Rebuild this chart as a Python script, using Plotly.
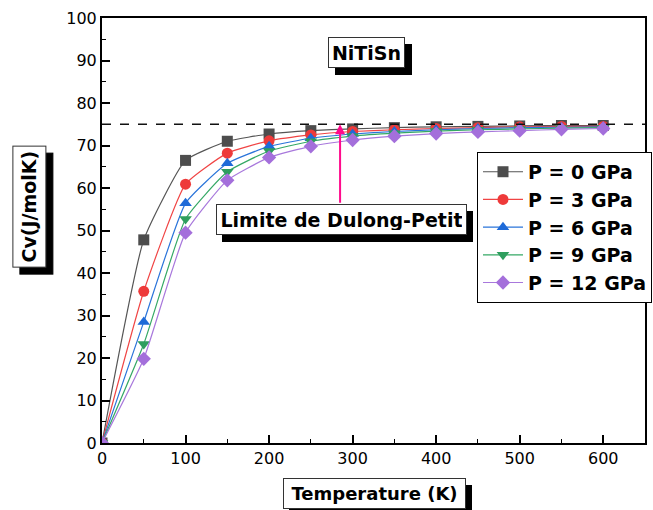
import plotly.graph_objects as go

temperature = [0, 50, 100, 150, 200, 250, 300, 350, 400, 450, 500, 550, 600]
cv_p0 = [0, 47.8, 66.5, 71.0, 72.7, 73.5, 73.9, 74.2, 74.4, 74.5, 74.6, 74.7, 74.7]
cv_p3 = [0, 35.7, 60.9, 68.2, 71.1, 72.5, 73.3, 73.7, 74.0, 74.2, 74.4, 74.5, 74.5]
cv_p6 = [0, 28.5, 56.4, 65.8, 69.8, 71.7, 72.7, 73.3, 73.7, 74.0, 74.2, 74.3, 74.4]
cv_p9 = [0, 23.3, 52.7, 63.8, 68.7, 71.0, 72.2, 72.9, 73.4, 73.7, 73.9, 74.1, 74.2]
cv_p12 = [0, 19.8, 49.5, 61.8, 67.2, 69.8, 71.3, 72.2, 72.8, 73.2, 73.5, 73.8, 74.0]
series_names = ["P = 0 GPa", "P = 3 GPa", "P = 6 GPa", "P = 9 GPa", "P = 12 GPa"]
dulong_petit = 75
x_ticks = [0, 100, 200, 300, 400, 500, 600]
y_ticks = [0, 10, 20, 30, 40, 50, 60, 70, 80, 90, 100]

series = [cv_p0, cv_p3, cv_p6, cv_p9, cv_p12]
line_colors = ["#555555", "#F04444", "#2A74DA", "#35A865", "#A878DC"]
marker_colors = ["#4D4D4D", "#EE3A3A", "#1E6AD8", "#2E9E5E", "#A46FDB"]
symbols = ["square", "circle", "triangle-up", "triangle-down", "diamond"]

FONT = "DejaVu Sans, sans-serif"

fig = go.Figure()
for name, vals, lc, mc, sym in zip(series_names, series, line_colors, marker_colors, symbols):
    fig.add_trace(go.Scatter(
        x=temperature, y=vals, name=name, mode="lines+markers",
        line=dict(color=lc, width=1.2, shape="spline", smoothing=0.45),
        marker=dict(symbol=sym, color=mc, size=11, line=dict(width=0)),
    ))

fig.add_shape(type="line", xref="paper", x0=0, x1=1, yref="y", y0=dulong_petit, y1=dulong_petit,
              line=dict(color="#111111", width=1.6, dash="dash"))

def boxed(text, x, y, xref, yref, size, w, h, angle=0, sx=7, sy=-7):
    common = dict(x=x, y=y, xref=xref, yref=yref, showarrow=False, textangle=angle,
                  xanchor="center", yanchor="middle", borderpad=4, borderwidth=1,
                  width=w - 10, height=h - 10)
    # drop shadow (blank box)
    fig.add_annotation(text=" ", xshift=sx, yshift=sy,
                       font=dict(family=FONT, size=size, color="black"),
                       bgcolor="black", bordercolor="black", **common)
    fig.add_annotation(text="<b>" + text + "</b>",
                       font=dict(family=FONT, size=size, color="black"),
                       bgcolor="white", bordercolor="#333333", **common)

boxed("NiTiSn", 317, 92, "x", "y", 19, 77, 31)
fig.add_annotation(x=285, y=dulong_petit, ax=285, ay=56.2, xref="x", yref="y", axref="x", ayref="y",
                   text="", showarrow=True, arrowhead=2, arrowsize=1, arrowwidth=2, arrowcolor="#FF0A8C")
boxed("Limite de Dulong-Petit", 287, 52.6, "x", "y", 19, 251, 31, sx=6)
boxed("Cv(J/molK)", -0.1335, 0.555, "paper", "paper", 19, 122, 34, angle=-90)
boxed("Temperature (K)", 0.502, -0.119, "paper", "paper", 18, 183, 31, sx=6)

fig.update_xaxes(range=[0, 650], tickvals=x_ticks, ticks="inside", ticklen=8, tickwidth=1.5,
                 tickcolor="black", showline=True, linecolor="black", linewidth=2, mirror=True,
                 showgrid=False, zeroline=False,
                 minor=dict(dtick=50, ticks="inside", ticklen=4, tickwidth=1.2, tickcolor="black"),
                 tickfont=dict(family=FONT, size=16, color="black"))
fig.update_yaxes(range=[0, 100], tickvals=y_ticks, ticks="inside", ticklen=8, tickwidth=1.5,
                 tickcolor="black", showline=True, linecolor="black", linewidth=2, mirror=True,
                 showgrid=False, zeroline=False,
                 minor=dict(dtick=5, ticks="inside", ticklen=4, tickwidth=1.2, tickcolor="black"),
                 tickfont=dict(family=FONT, size=16, color="black"))

fig.update_layout(
    width=653, height=510,
    margin=dict(l=102, r=8, t=18, b=67, autoexpand=False),
    plot_bgcolor="white", paper_bgcolor="white",
    legend=dict(x=0.6906, y=0.685, xanchor="left", yanchor="top",
                font=dict(family=FONT, size=19, color="black", weight="bold"),
                bgcolor="white", bordercolor="black", borderwidth=1,
                itemwidth=40, tracegroupgap=0),
)

fig.write_html("out.html")
